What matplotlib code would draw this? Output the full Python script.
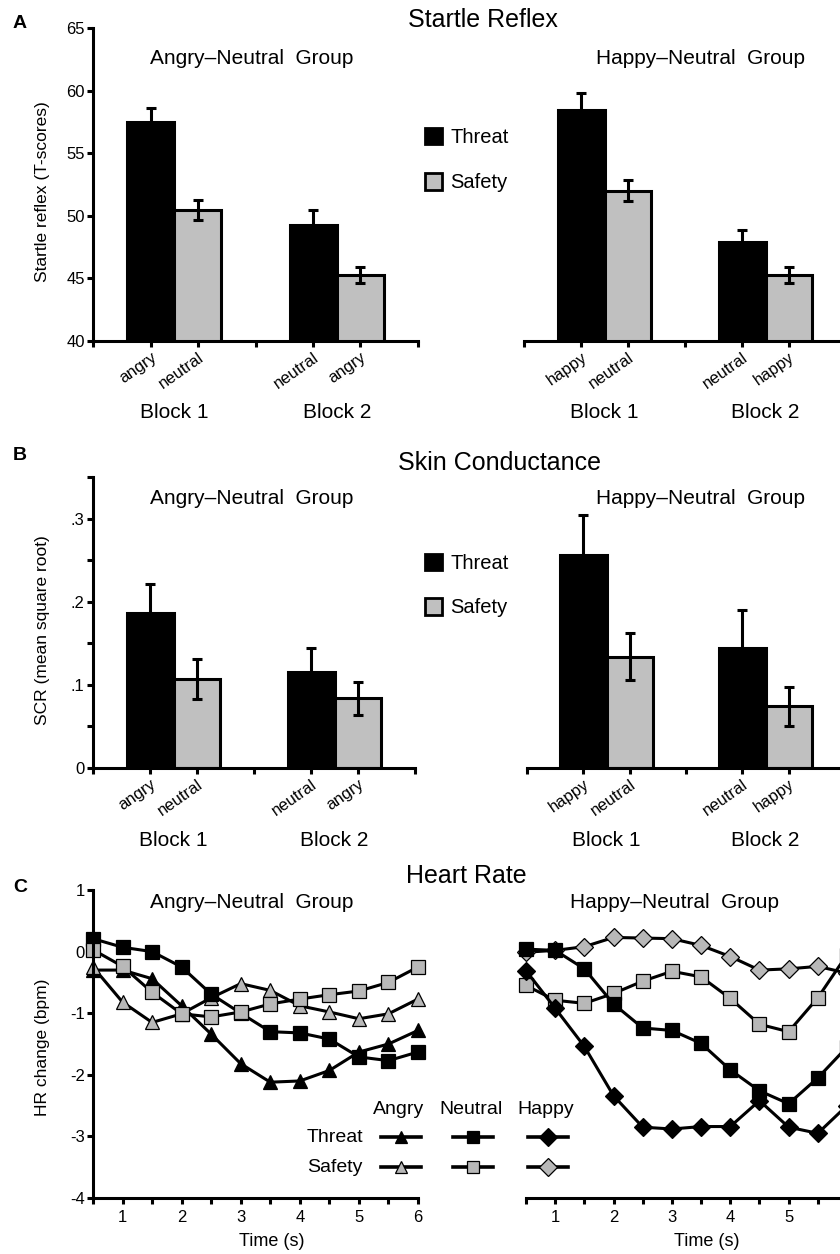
import matplotlib
matplotlib.use('Agg')  # Non-interactive backend
import matplotlib.pyplot as plt
from matplotlib.lines import Line2D
from matplotlib.patches import Patch
import numpy as np

plt.rcParams['font.family'] = ['Liberation Sans', 'DejaVu Sans']
plt.rcParams['axes.unicode_minus'] = False

W, H = 840, 1254
GRAY_BAR = '#c0c0c0'
GRAY_MK = '#b8b8b8'

# ---- data ----
blocks = ['Block 1', 'Block 2']
angry_cues = ['angry', 'neutral', 'neutral', 'angry']
happy_cues = ['happy', 'neutral', 'neutral', 'happy']

# Startle reflex (T-scores)
startle_an_threat = [57.5, 49.3]
startle_an_threat_err = [1.1, 1.2]
startle_an_safety = [50.5, 45.25]
startle_an_safety_err = [0.8, 0.65]
startle_hn_threat = [58.45, 47.9]
startle_hn_threat_err = [1.35, 1.0]
startle_hn_safety = [52.0, 45.25]
startle_hn_safety_err = [0.85, 0.65]

# Skin conductance (mean square root)
scr_an_threat = [0.186, 0.116]
scr_an_threat_err = [0.035, 0.028]
scr_an_safety = [0.107, 0.084]
scr_an_safety_err = [0.024, 0.020]
scr_hn_threat = [0.256, 0.144]
scr_hn_threat_err = [0.048, 0.046]
scr_hn_safety = [0.134, 0.074]
scr_hn_safety_err = [0.028, 0.024]

# Heart rate change (bpm)
time_s = [0.5, 1, 1.5, 2, 2.5, 3, 3.5, 4, 4.5, 5, 5.5, 6]
hr_angry_threat = [-0.30, -0.30, -0.44, -0.88, -1.34, -1.82, -2.12, -2.10, -1.93, -1.63, -1.50, -1.28]
hr_angry_safety = [-0.25, -0.82, -1.15, -1.01, -0.75, -0.52, -0.63, -0.88, -0.98, -1.09, -1.01, -0.77]
hr_an_neutral_threat = [0.21, 0.07, 0.00, -0.25, -0.69, -1.00, -1.30, -1.32, -1.42, -1.71, -1.77, -1.63]
hr_an_neutral_safety = [0.03, -0.24, -0.66, -1.01, -1.06, -0.98, -0.85, -0.77, -0.70, -0.64, -0.50, -0.25]
hr_happy_threat = [-0.31, -0.92, -1.54, -2.34, -2.85, -2.88, -2.84, -2.84, -2.42, -2.85, -2.95, -2.50]
hr_happy_safety = [-0.01, 0.02, 0.08, 0.23, 0.22, 0.21, 0.10, -0.08, -0.30, -0.28, -0.24, -0.35]
hr_hn_neutral_threat = [0.04, 0.02, -0.28, -0.85, -1.24, -1.28, -1.49, -1.92, -2.26, -2.47, -2.05, -1.55]
hr_hn_neutral_safety = [-0.55, -0.79, -0.84, -0.68, -0.48, -0.32, -0.41, -0.76, -1.18, -1.30, -0.75, -0.05]


def fx(px):
    return px / W


def fy(py):
    return 1 - py / H


def box(x0, x1, y_top, y_bot):
    return [fx(x0), fy(y_bot), (x1 - x0) / W, (y_bot - y_top) / H]


def _style(ax, left=True):
    for s in ['top', 'right']:
        ax.spines[s].set_visible(False)
    for s in ['left', 'bottom']:
        ax.spines[s].set_linewidth(2.2)
    ax.tick_params(which='both', direction='out', width=2.2, length=4,
                   labelsize=12, pad=2)
    if not left:
        ax.spines['left'].set_visible(False)
        ax.tick_params(axis='y', which='both', left=False, labelleft=False)


def bar_panel(ax, threat, threat_err, safety, safety_err, cues, left):
    x = np.arange(len(blocks)) + 0.5
    w = 0.29
    ekw = dict(ecolor='black', elinewidth=2.2, capsize=3.5, capthick=2.2)
    ax.bar(x - w / 2, threat, w, color='black', edgecolor='black',
           linewidth=2.2, yerr=threat_err, error_kw=ekw, zorder=2)
    ax.bar(x + w / 2, safety, w, color=GRAY_BAR, edgecolor='black',
           linewidth=2.2, yerr=safety_err, error_kw=ekw, zorder=2)
    ax.set_xlim(0, len(blocks))
    ax.set_xticks(np.arange(len(blocks) + 1))
    ax.set_xticklabels([])
    centers = np.ravel(np.column_stack([x - w / 2, x + w / 2]))
    ax.set_xticks(centers, minor=True)
    ax.set_xticklabels(cues, minor=True, rotation=35, ha='right', va='top',
                       rotation_mode='anchor', fontsize=12.5)
    ax.tick_params(axis='x', which='minor', length=0, pad=5)
    for xi, b in zip(x, blocks):
        ax.annotate(b, xy=(xi, 0), xycoords=('data', 'axes fraction'),
                    xytext=(0, -72), textcoords='offset pixels',
                    ha='center', va='center', fontsize=15)
    _style(ax, left)


def legend_bars(y_threat, y_safety):
    handles = [Patch(facecolor='black', edgecolor='black', linewidth=2),
               Patch(facecolor=GRAY_BAR, edgecolor='black', linewidth=2)]
    fig.legend(handles, ['Threat', 'Safety'], loc='center left',
               bbox_to_anchor=(fx(425), fy((y_threat + y_safety) / 2)),
               frameon=False, fontsize=14.5, handlelength=0.85,
               handleheight=0.9, handletextpad=0.4,
               labelspacing=(y_safety - y_threat) / 20.0 - 1.0,
               borderpad=0, borderaxespad=0)


fig = plt.figure(figsize=(W / 100, H / 100), dpi=100)

# ---------- A: startle ----------
axA1 = fig.add_axes(box(93, 418, 28, 341))
bar_panel(axA1, startle_an_threat, startle_an_threat_err,
          startle_an_safety, startle_an_safety_err, angry_cues, True)
axA1.set_ylim(40, 65)
axA1.set_yticks(range(40, 66, 5))
axA1.set_ylabel('Startle reflex (T-scores)', fontsize=12.5, va='center')
axA1.yaxis.set_label_coords((43 - 93) / 325, 0.476)

axA2 = fig.add_axes(box(524, 846, 28, 341))
bar_panel(axA2, startle_hn_threat, startle_hn_threat_err,
          startle_hn_safety, startle_hn_safety_err, happy_cues, False)
axA2.set_ylim(40, 65)
legend_bars(137, 183)

# ---------- B: skin conductance ----------
axB1 = fig.add_axes(box(93, 415, 477, 768))
bar_panel(axB1, scr_an_threat, scr_an_threat_err,
          scr_an_safety, scr_an_safety_err, angry_cues, True)
axB1.set_ylim(0, 0.35)
axB1.set_yticks([0, 0.1, 0.2, 0.3])
axB1.set_yticklabels(['0', '.1', '.2', '.3'])
axB1.set_yticks([0.05, 0.15, 0.25, 0.35], minor=True)
axB1.set_ylabel('SCR (mean square root)', fontsize=12.5, va='center')
axB1.yaxis.set_label_coords((43 - 93) / 322, 0.474)

axB2 = fig.add_axes(box(527, 845, 477, 768))
bar_panel(axB2, scr_hn_threat, scr_hn_threat_err,
          scr_hn_safety, scr_hn_safety_err, happy_cues, False)
axB2.set_ylim(0, 0.35)
legend_bars(563, 608)

# ---------- C: heart rate ----------
lw = 2.2
marker_size = {'s': 10.5, '^': 10.5, 'D': 9.5}


def hr_panel(ax, series, left, labelled_ticks):
    for vals, marker, face in series:
        ax.plot(time_s, vals, color='black', linewidth=lw, marker=marker,
                markerfacecolor=face, markersize=marker_size[marker],
                markeredgecolor='black', markeredgewidth=0.9, clip_on=False)
    ax.set_xlim(0.5, 6)
    ax.set_ylim(-4, 1)
    ax.set_xticks(labelled_ticks)
    ax.set_xticks(np.arange(0.5, 6.01, 0.5), minor=True)
    ax.set_yticks(range(-4, 2))
    _style(ax, left)
    ax.tick_params(axis='x', which='major', pad=5)
    ax.set_xlabel('Time (s)', fontsize=13, va='center')


axC1 = fig.add_axes(box(93, 418, 890, 1198))
hr_panel(axC1, [(hr_angry_threat, '^', 'black'),
                (hr_angry_safety, '^', GRAY_MK),
                (hr_an_neutral_threat, 's', 'black'),
                (hr_an_neutral_safety, 's', GRAY_MK)], True, range(1, 7))
axC1.xaxis.set_label_coords((272 - 93) / 325, (1198 - 1242) / 308)
axC1.set_ylabel('HR change (bpm)', fontsize=12.5, va='center')
axC1.yaxis.set_label_coords((43 - 93) / 325, 0.49)

axC2 = fig.add_axes(box(526, 847, 890, 1198))
hr_panel(axC2, [(hr_happy_safety, 'D', GRAY_MK),
                (hr_hn_neutral_safety, 's', GRAY_MK),
                (hr_hn_neutral_threat, 's', 'black'),
                (hr_happy_threat, 'D', 'black')], False, range(1, 6))
axC2.xaxis.set_label_coords((707 - 526) / 321, (1198 - 1242) / 308)

# heart-rate legend (drawn in figure space)
leg_cols = [('Angry', '^', 401), ('Neutral', 's', 473), ('Happy', 'D', 548)]
leg_rows = [('Threat', 'black', 1137), ('Safety', GRAY_MK, 1167)]
for name, marker, cx in leg_cols:
    fig.text(fx(cx - 2), fy(1109), name, ha='center', va='center', fontsize=14)
    for row, face, cy in leg_rows:
        fig.add_artist(Line2D([fx(cx - 20), fx(cx), fx(cx + 20)], [fy(cy)] * 3,
                              transform=fig.transFigure, color='black',
                              linewidth=2.6, marker=marker, markevery=[1],
                              markersize=8 if marker != 'D' else 9,
                              markerfacecolor=face, markeredgecolor='black',
                              markeredgewidth=0.9))
for row, face, cy in leg_rows:
    fig.text(fx(363), fy(cy), row, ha='right', va='center', fontsize=14)

# ---------- titles & labels ----------
fig.text(fx(483), fy(20), 'Startle Reflex', ha='center', va='center', fontsize=18)
fig.text(fx(500), fy(463), 'Skin Conductance', ha='center', va='center', fontsize=18)
fig.text(fx(466), fy(876), 'Heart Rate', ha='center', va='center', fontsize=18)

for yy in [59, 499]:
    fig.text(fx(252), fy(yy), 'Angry\u2013Neutral  Group', ha='center', va='center', fontsize=15)
    fig.text(fx(700), fy(yy), 'Happy\u2013Neutral  Group', ha='center', va='center', fontsize=15)
fig.text(fx(252), fy(903), 'Angry\u2013Neutral  Group', ha='center', va='center', fontsize=15)
fig.text(fx(675), fy(903), 'Happy\u2013Neutral  Group', ha='center', va='center', fontsize=15)

for lab, yy in [('A', 23), ('B', 455), ('C', 888)]:
    fig.text(fx(20), fy(yy), lab, ha='center', va='center', fontsize=14, fontweight='bold')

fig.savefig('out.png', dpi=100, facecolor='white')
plt.close(fig)
